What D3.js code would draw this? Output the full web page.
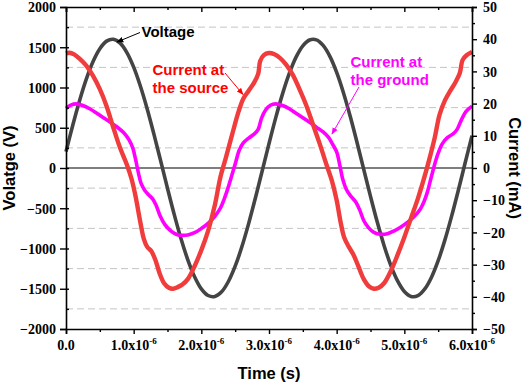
<!DOCTYPE html>
<html><head><meta charset="utf-8">
<script src="https://cdn.jsdelivr.net/npm/d3@7"></script>
<style>
html,body{margin:0;padding:0;background:#fff;}
svg{display:block;}
</style></head>
<body>
<svg id="chart" width="526" height="384"></svg>
<script>
// ---- data (time in microseconds) ----
const voltageTime = d3.range(0, 61).map(i => i / 10);
const voltage = [203,531,836,1104,1323,1482,1576,1599,1551,1434,1253,1015,733,418,85,-253,-579,-879,-1140,-1350,
  -1501,-1584,-1596,-1538,-1410,-1220,-976,-688,-369,-34,303,626,921,1175,1377,1517,1590,1592,1523,1386,
  1187,935,642,320,-17,-352,-672,-962,-1209,-1402,-1533,-1595,-1586,-1506,-1360,-1152,-893,-595,-270,68,402];

const sourceTime = [0,0.05,0.12,0.2,0.3,0.4,0.5,0.6,0.7,0.8,0.9,0.97,1.03,1.1,1.15,1.2,1.26,1.32,1.38,1.45,1.52,1.58,1.65,1.72,1.8,1.9,
  2.0,2.1,2.2,2.28,2.36,2.45,2.55,2.62,2.7,2.78,2.84,2.87,2.92,3.0,3.08,3.16,3.25,3.35,3.45,3.55,3.65,3.75,3.85,3.93,
  4.0,4.06,4.11,4.18,4.25,4.32,4.4,4.48,4.55,4.62,4.7,4.8,4.9,5.0,5.1,5.2,5.28,5.36,5.45,5.52,5.6,5.68,5.76,5.82,5.86,5.92,6.0];
const sourceCurrent = [35.6,35.8,35.3,34.0,31.8,28.6,24.5,19.2,12.5,6.2,1.0,-3.5,-9,-17,-22,-24.5,-25.8,-28.5,-32.5,-35.8,-37.2,-37.5,-37.0,-36.2,-34.5,-30.5,
  -25.5,-19.5,-11.5,-3,3,10,17.5,21.5,24,26.5,29.2,33.2,35,35.7,35.3,34.2,32.2,29,24.5,19.5,13.5,7.5,1,-4,
  -10,-17,-21.5,-24.5,-27,-30.5,-34.5,-36.8,-37.5,-37.2,-35.8,-32,-27,-21.5,-15.5,-9.5,-4,2,9.5,16.5,21,24,26.8,29.5,33.5,35,36];

const groundTime = [0,0.07,0.15,0.25,0.35,0.45,0.55,0.65,0.75,0.85,0.93,0.99,1.03,1.07,1.11,1.16,1.22,1.28,1.33,1.39,1.46,1.54,1.62,1.7,1.8,1.9,
  2.0,2.1,2.2,2.28,2.34,2.39,2.44,2.5,2.56,2.62,2.7,2.78,2.84,2.89,2.95,3.02,3.1,3.2,3.3,3.4,3.5,3.6,3.7,3.8,3.88,3.95,
  4.0,4.05,4.09,4.14,4.2,4.28,4.34,4.4,4.47,4.55,4.65,4.75,4.85,4.95,5.05,5.15,5.23,5.29,5.34,5.39,5.44,5.5,5.56,5.64,5.72,5.78,5.84,5.91,6.0];
const groundCurrent = [18.5,19.5,19.9,19.4,18.4,17.1,15.7,14.3,12.8,11,8.8,6,2.5,-1.5,-4.8,-6.8,-8.3,-9.6,-11.5,-14.8,-17.5,-19.4,-20.5,-20.9,-20.8,-20.1,
  -18.8,-17.2,-15,-12.5,-9.5,-6.5,-3,1.2,5.5,7.8,9.3,10.5,12,15.5,18,19.5,19.9,19.4,18.4,17,15.6,14.2,12.7,11.2,9.5,7,
  5,0.5,-3.5,-6.5,-8.5,-10.5,-13,-16.3,-18.5,-20,-20.6,-20.4,-19.5,-18.3,-16.8,-15,-13,-10.5,-7.5,-3.5,0.5,4.6,7.5,9.5,10.6,12,14.8,17.5,19.2];

const xTicks = [0,1,2,3,4,5,6];
const xMinorTicks = [0.5,1.5,2.5,3.5,4.5,5.5];
const vTicks = [-2000,-1500,-1000,-500,0,500,1000,1500,2000];
const iTicks = [-50,-40,-30,-20,-10,0,10,20,30,40,50];
const gridValues = [-1750,-1250,-750,-250,250,750,1250,1750];

// ---- layout ----
const L = 66, R = 472, T = 7, B = 329;
const serif = '"Liberation Serif","Times New Roman",serif';
const sans = '"Liberation Sans",Arial,sans-serif';
const svg = d3.select("#chart");
const x = d3.scaleLinear().domain([0, 6]).range([L, R]);
const yV = d3.scaleLinear().domain([-2000, 2000]).range([B, T]);
const yI = d3.scaleLinear().domain([-50, 50]).range([B, T]);

const defs = svg.append("defs");
function marker(id, color) {
  defs.append("marker").attr("id", id).attr("viewBox", "0 0 10 10")
    .attr("refX", 9).attr("refY", 5).attr("markerWidth", 7).attr("markerHeight", 7)
    .attr("markerUnits", "userSpaceOnUse").attr("orient", "auto")
    .append("path").attr("d", "M0,1 L10,5 L0,9 Z").attr("fill", color);
}
marker("arrK", "#000"); marker("arrR", "#ff0000"); marker("arrM", "#ff00ff");

// grid
svg.append("g").selectAll("line").data(gridValues).join("line")
  .attr("x1", L).attr("x2", R).attr("y1", d => yV(d)).attr("y2", d => yV(d))
  .attr("stroke", "#c4c4c4").attr("stroke-width", 1).attr("stroke-dasharray", "7,4");

// zero line
svg.append("line").attr("x1", L).attr("x2", R).attr("y1", yV(0)).attr("y2", yV(0))
  .attr("stroke", "#000").attr("stroke-width", 1.2);

// curves
const lineV = d3.line().x((d, i) => x(voltageTime[i])).y(d => yV(d)).curve(d3.curveCatmullRom);
svg.append("path").datum(voltage).attr("d", lineV).attr("fill", "none")
  .attr("stroke", "#444444").attr("stroke-width", 3.6);

const lineG = d3.line().x((d, i) => x(groundTime[i])).y(d => yI(d)).curve(d3.curveCatmullRom);
svg.append("path").datum(groundCurrent).attr("d", lineG).attr("fill", "none")
  .attr("stroke", "#ff00ff").attr("stroke-width", 3.6);

const lineS = d3.line().x((d, i) => x(sourceTime[i])).y(d => yI(d)).curve(d3.curveCatmullRom);
svg.append("path").datum(sourceCurrent).attr("d", lineS).attr("fill", "none")
  .attr("stroke", "#f03c3c").attr("stroke-width", 4.4).attr("stroke-linejoin", "round");

// axes
function styleAxis(g) {
  g.attr("font-family", serif).attr("font-weight", "bold").attr("font-size", 14);
  g.select(".domain").attr("stroke", "#000").attr("stroke-width", 1.6);
  g.selectAll(".tick line").attr("stroke", "#000").attr("stroke-width", 1.4);
  g.selectAll(".tick text").attr("fill", "#000");
}
// left
svg.append("g").attr("transform", `translate(${L},0)`)
  .call(d3.axisLeft(yV).tickValues(vTicks).tickSize(6).tickPadding(4).tickFormat(d3.format("d")))
  .call(styleAxis).call(g => g.selectAll(".tick text").attr("dy", "0.34em"));
svg.append("g").attr("transform", `translate(${L},0)`)
  .call(d3.axisRight(yV).tickValues(d3.range(-1750, 2000, 250)).tickSize(3).tickFormat(""))
  .call(styleAxis).call(g => g.select(".domain").remove());
// right
svg.append("g").attr("transform", `translate(${R},0)`)
  .call(d3.axisRight(yI).tickValues(iTicks).tickSize(5).tickPadding(6).tickFormat(d3.format("d")))
  .call(styleAxis).call(g => g.selectAll(".tick text").attr("dy", "0.34em"));
svg.append("g").attr("transform", `translate(${R},0)`)
  .call(d3.axisRight(yI).tickValues(d3.range(-45, 50, 10)).tickSize(3).tickFormat(""))
  .call(styleAxis).call(g => g.select(".domain").remove());
// bottom
svg.append("g").attr("transform", `translate(0,${B})`)
  .call(d3.axisBottom(x).tickValues(xTicks).tickSize(5).tickFormat(""))
  .call(styleAxis);
svg.append("g").attr("transform", `translate(0,${B})`)
  .call(d3.axisBottom(x).tickValues(xMinorTicks).tickSize(3).tickFormat(""))
  .call(styleAxis).call(g => g.select(".domain").remove());
// top (inward ticks)
svg.append("g").attr("transform", `translate(0,${T})`)
  .call(d3.axisBottom(x).tickValues(xTicks).tickSize(5).tickFormat(""))
  .call(styleAxis);
svg.append("g").attr("transform", `translate(0,${T})`)
  .call(d3.axisBottom(x).tickValues(xMinorTicks).tickSize(3).tickFormat(""))
  .call(styleAxis).call(g => g.select(".domain").remove());

// x tick labels with superscript
const xl = svg.append("g").selectAll("text").data(xTicks).join("text")
  .attr("x", d => x(d)).attr("y", 350).attr("text-anchor", "middle")
  .attr("font-family", serif).attr("font-weight", "bold").attr("font-size", 14).attr("fill", "#000");
xl.each(function(d) {
  const t = d3.select(this);
  if (d === 0) { t.text("0.0"); return; }
  t.append("tspan").text(d3.format(".1f")(d) + "x10");
  t.append("tspan").attr("font-size", 9).attr("dy", -6).text("-6");
});

// axis titles
svg.append("text").attr("x", 269).attr("y", 379).attr("text-anchor", "middle")
  .attr("font-family", sans).attr("font-weight", "bold").attr("font-size", 16.5).text("Time (s)");
svg.append("text").attr("transform", "translate(15,168) rotate(-90)").attr("text-anchor", "middle")
  .attr("font-family", sans).attr("font-weight", "bold").attr("font-size", 16.5).text("Volatge (V)");
svg.append("text").attr("transform", "translate(509,168) rotate(90)").attr("text-anchor", "middle")
  .attr("font-family", sans).attr("font-weight", "bold").attr("font-size", 16.5).text("Current (mA)");

// annotations
function label(lines, x0, y0, color) {
  const t = svg.append("text").attr("font-family", sans).attr("font-weight", "bold")
    .attr("font-size", 15).attr("fill", color);
  lines.forEach((s, i) => t.append("tspan").attr("x", x0).attr("y", y0 + i * 18.3).text(s));
}
label(["Voltage"], 141.5, 37.3, "#000");
label(["Current at", "the source"], 152.5, 75, "#ff0000");
label(["Current at", "the ground"], 350.5, 66.7, "#ff00ff");

svg.append("line").attr("x1", 140).attr("y1", 32.5).attr("x2", 117).attr("y2", 42)
  .attr("stroke", "#000").attr("stroke-width", 1).attr("marker-end", "url(#arrK)");
svg.append("line").attr("x1", 225).attr("y1", 73).attr("x2", 243).attr("y2", 94.5)
  .attr("stroke", "#ff0000").attr("stroke-width", 1).attr("marker-end", "url(#arrR)");
svg.append("line").attr("x1", 359).attr("y1", 87).attr("x2", 332).attr("y2", 134)
  .attr("stroke", "#ff00ff").attr("stroke-width", 1).attr("marker-end", "url(#arrM)");
</script>
</body></html>
